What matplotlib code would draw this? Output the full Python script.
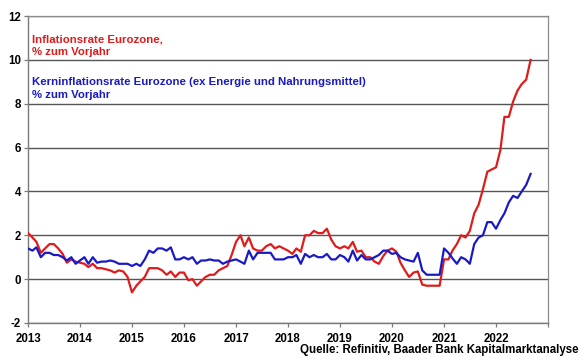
import numpy as np
import pandas as pd
import matplotlib
matplotlib.use("Agg")
import matplotlib.pyplot as plt

# Inflationsrate Eurozone, % zum Vorjahr (monatlich ab Jan 2013)
headline = [
    2.1, 1.9, 1.7, 1.2, 1.4, 1.6, 1.6, 1.4, 1.15, 0.75, 0.9, 0.8,      # 2013
    0.75, 0.7, 0.55, 0.7, 0.5, 0.5, 0.45, 0.4, 0.3, 0.4, 0.35, 0.1,    # 2014
    -0.6, -0.3, -0.1, 0.1, 0.5, 0.5, 0.5, 0.4, 0.2, 0.35, 0.1, 0.3,    # 2015
    0.3, -0.05, 0.0, -0.3, -0.1, 0.1, 0.2, 0.2, 0.4, 0.5, 0.6, 1.1,    # 2016
    1.7, 2.0, 1.5, 1.9, 1.4, 1.3, 1.3, 1.5, 1.6, 1.4, 1.5, 1.4,        # 2017
    1.3, 1.15, 1.4, 1.25, 2.0, 2.0, 2.2, 2.1, 2.1, 2.3, 1.8, 1.5,      # 2018
    1.4, 1.5, 1.4, 1.7, 1.25, 1.3, 1.0, 1.0, 0.8, 0.7, 1.05, 1.3,      # 2019
    1.4, 1.25, 0.75, 0.4, 0.1, 0.3, 0.35, -0.25, -0.3, -0.3, -0.3, -0.3,  # 2020
    0.9, 0.9, 1.3, 1.6, 2.0, 1.9, 2.2, 3.0, 3.4, 4.1, 4.9, 5.0,        # 2021
    5.1, 5.9, 7.4, 7.4, 8.1, 8.6, 8.9, 9.1, 10.0,                      # 2022
]

# Kerninflationsrate (ex Energie und Nahrungsmittel)
core = [
    1.4, 1.3, 1.45, 1.0, 1.2, 1.2, 1.1, 1.1, 1.0, 0.85, 1.0, 0.7,
    0.85, 1.0, 0.7, 1.0, 0.75, 0.8, 0.8, 0.85, 0.8, 0.7, 0.7, 0.7,
    0.6, 0.7, 0.6, 0.9, 1.3, 1.2, 1.4, 1.4, 1.3, 1.45, 0.9, 0.9,
    1.0, 0.9, 1.0, 0.7, 0.85, 0.85, 0.9, 0.85, 0.85, 0.7, 0.8, 0.85,
    0.9, 0.8, 0.7, 1.3, 0.9, 1.2, 1.2, 1.2, 1.2, 0.9, 0.9, 0.9,
    1.0, 1.0, 1.1, 0.7, 1.15, 1.0, 1.1, 1.0, 1.0, 1.15, 0.9, 0.9,
    1.1, 1.0, 0.8, 1.3, 0.85, 1.1, 0.9, 0.9, 1.0, 1.1, 1.3, 1.3,
    1.15, 1.2, 1.0, 0.9, 0.85, 0.8, 1.2, 0.4, 0.2, 0.2, 0.2, 0.2,
    1.4, 1.2, 0.95, 0.7, 1.0, 0.9, 0.7, 1.6, 1.9, 2.0, 2.6, 2.6,
    2.3, 2.7, 3.0, 3.5, 3.8, 3.7, 4.0, 4.3, 4.8,
]

years = list(range(2013, 2024))
year_labels = [str(y) for y in years[:-1]] + [""]
y_ticks = [-2, 0, 2, 4, 6, 8, 10, 12]

dates = pd.date_range("2013-01-01", periods=len(headline), freq="MS")

RED = "#e01b1b"
BLUE = "#1a1ac4"
GRID = "#555555"

plt.rcParams["font.family"] = ["Liberation Sans", "DejaVu Sans"]
plt.rcParams["font.weight"] = "bold"

fig = plt.figure(figsize=(5.8, 3.59), dpi=100)
ax = fig.add_axes([0.0483, 0.1003, 0.8965, 0.8551])

ax.plot(dates, headline, color=RED, lw=1.6, zorder=3)
ax.plot(dates, core, color=BLUE, lw=1.6, zorder=3)

ax.set_ylim(-2, 12)
ax.set_yticks(y_ticks)
ax.set_yticklabels([str(v) for v in y_ticks])
ax.yaxis.grid(True, color=GRID, lw=1.0)
ax.set_axisbelow(True)

ax.set_xlim(pd.Timestamp("2013-01-01"), pd.Timestamp("2023-01-01"))
ax.set_xticks([pd.Timestamp(f"{y}-01-01") for y in years])
ax.set_xticklabels(year_labels)

for s in ["top", "right"]:
    ax.spines[s].set_color("#8c8c8c")
    ax.spines[s].set_linewidth(0.9)
for s in ["left", "bottom"]:
    ax.spines[s].set_color("#7a7a7a")
    ax.spines[s].set_linewidth(1.0)

ax.tick_params(axis="both", labelsize=8.3, length=3, width=0.9, color="#7a7a7a", pad=2)
ax.tick_params(axis="x", pad=4)
for lab in ax.get_xticklabels() + ax.get_yticklabels():
    lab.set_fontweight("bold")

ax.text(0.007, 0.94, "Inflationsrate Eurozone,\n% zum Vorjahr", transform=ax.transAxes,
        color=RED, fontsize=8.2, fontweight="bold", va="top", ha="left", linespacing=1.35)
ax.text(0.007, 0.80, "Kerninflationsrate Eurozone (ex Energie und Nahrungsmittel)\n% zum Vorjahr",
        transform=ax.transAxes, color=BLUE, fontsize=8.2, fontweight="bold",
        va="top", ha="left", linespacing=1.35)

fig.text(0.997, 0.008, "Quelle: Refinitiv, Baader Bank Kapitalmarktanalyse",
         ha="right", va="bottom", fontsize=8.3, fontweight="bold", color="black")

fig.savefig("out.png", dpi=100)
